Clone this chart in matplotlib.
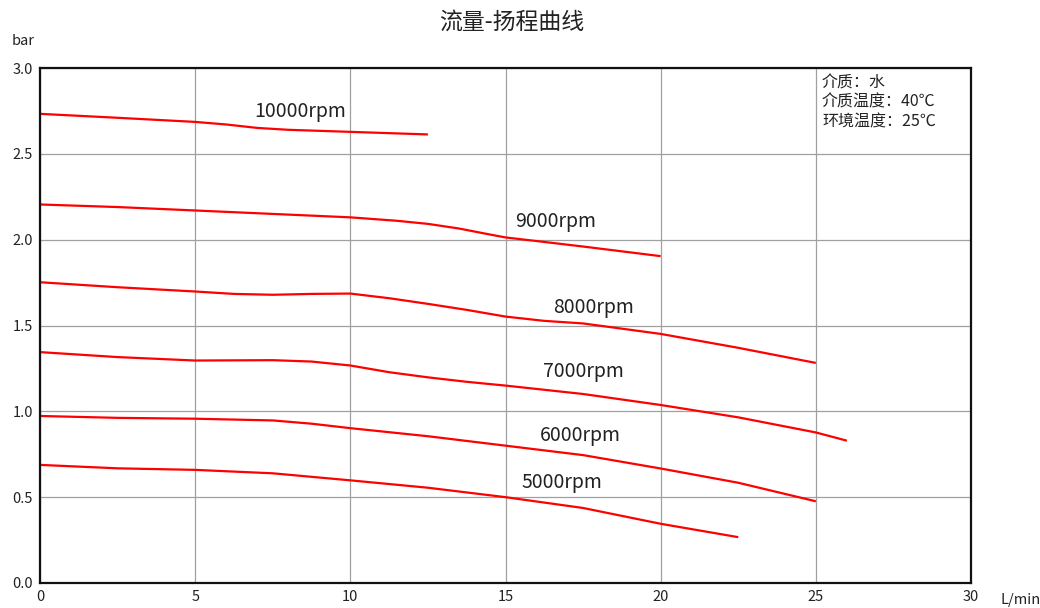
import matplotlib
matplotlib.use("Agg")
import matplotlib.pyplot as plt

plt.rcParams['font.family'] = ['Noto Sans CJK SC', 'DejaVu Sans']

flow_10000 = [0, 2.5, 5, 6, 7, 8, 10, 12.5]
head_10000 = [2.733, 2.710, 2.686, 2.671, 2.651, 2.640, 2.628, 2.613]
flow_9000 = [0, 2.5, 5, 7.5, 10, 11.5, 12.5, 13.5, 14.5, 15, 16, 17.5, 20]
head_9000 = [2.205, 2.190, 2.170, 2.150, 2.130, 2.110, 2.092, 2.065, 2.030, 2.013, 1.992, 1.960, 1.904]
flow_8000 = [0, 2.5, 5, 6.25, 7.5, 8.75, 10, 11.25, 12.5, 13.75, 15, 16.25, 17.5, 20, 22.5, 25]
head_8000 = [1.752, 1.723, 1.698, 1.684, 1.679, 1.684, 1.686, 1.659, 1.626, 1.591, 1.552, 1.527, 1.512, 1.451, 1.370, 1.282]
flow_7000 = [0, 2.5, 5, 7.5, 8.75, 10, 11.25, 12.5, 13.75, 15, 17.5, 20, 22.5, 25, 26]
head_7000 = [1.345, 1.316, 1.296, 1.298, 1.290, 1.267, 1.228, 1.198, 1.172, 1.150, 1.101, 1.037, 0.965, 0.877, 0.829]
flow_6000 = [0, 2.5, 5, 7.5, 8.75, 10, 12.5, 15, 17.5, 20, 22.5, 25]
head_6000 = [0.973, 0.962, 0.957, 0.947, 0.928, 0.902, 0.855, 0.800, 0.745, 0.667, 0.584, 0.476]
flow_5000 = [0, 2.5, 5, 7.5, 10, 12.5, 15, 17.5, 20, 22.5]
head_5000 = [0.688, 0.668, 0.659, 0.639, 0.598, 0.555, 0.500, 0.437, 0.345, 0.267]

series = [
    ("10000rpm", flow_10000, head_10000, (6.9, 2.746)),
    ("9000rpm", flow_9000, head_9000, (15.3, 2.106)),
    ("8000rpm", flow_8000, head_8000, (16.55, 1.607)),
    ("7000rpm", flow_7000, head_7000, (16.2, 1.232)),
    ("6000rpm", flow_6000, head_6000, (16.1, 0.859)),
    ("5000rpm", flow_5000, head_5000, (15.5, 0.588)),
]

x_ticks = [0, 5, 10, 15, 20, 25, 30]
y_ticks = [0.0, 0.5, 1.0, 1.5, 2.0, 2.5, 3.0]
y_tick_labels = ["0.0", "0.5", "1.0", "1.5", "2.0", "2.5", "3.0"]
info_lines = ["介质：水", "介质温度：40℃", "环境温度：25℃"]

fig = plt.figure(figsize=(10.4, 6.08), dpi=100)
ax = fig.add_axes([40/1040, 1 - 583/608, (971-40)/1040, (583-68)/608])

for name, xs, ys, (lx, ly) in series:
    ax.plot(xs, ys, color='#ff0000', lw=1.6, solid_capstyle='butt', solid_joinstyle='round')
    ax.text(lx, ly, name, fontsize=14, color='#222222', ha='left', va='center')

ax.set_xlim(0, 30)
ax.set_ylim(0, 3.0)
ax.set_xticks(x_ticks)
ax.set_yticks(y_ticks)
ax.set_yticklabels(y_tick_labels)
ax.grid(True, color='#a0a0a0', lw=0.9)
ax.set_axisbelow(True)
ax.tick_params(length=0, labelsize=10.5, colors='#222222', pad=5)
for s in ax.spines.values():
    s.set_color('#111111')
    s.set_linewidth(1.6)

ax.text(25.2, 2.962, "\n".join(info_lines), fontsize=11.5, color='#222222',
        ha='left', va='top', linespacing=1.18)

fig.text(512/1040, 1 - 22/608, "流量-扬程曲线", fontsize=16.5, ha='center', va='center', color='#222222')
fig.text(12/1040, 1 - 41/608, "bar", fontsize=10.5, ha='left', va='center', color='#222222')
fig.text(1000/1040, 1 - 600/608, "L/min", fontsize=10.5, ha='left', va='center', color='#222222')

fig.savefig("out.png", dpi=100)
